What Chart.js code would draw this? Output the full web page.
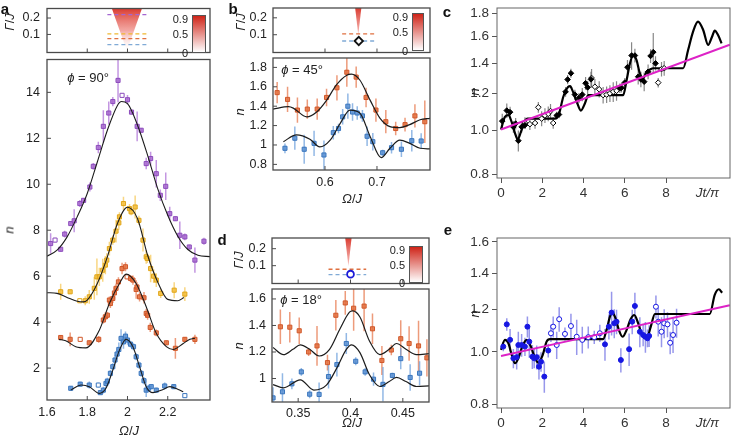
<!DOCTYPE html>
<html>
<head>
<meta charset="utf-8">
<script src="https://cdn.jsdelivr.net/npm/chart.js@4.4.1/dist/chart.umd.min.js"></script>
<style>
body { margin:0; width:732px; height:436px; position:relative; overflow:hidden; background:#fff;
       font-family:'Liberation Sans', Arial, sans-serif; }
canvas { position:absolute; }
.t { position:absolute; white-space:nowrap; color:#222; font-size:13px; transform:translate(-50%,-50%); }
.r { transform:translate(-50%,-50%) rotate(-90deg); }
.pl { font-weight:bold; font-size:15px; color:#111; }
.cb { position:absolute; box-sizing:border-box; border:1px solid #555;
      background:linear-gradient(to top, #ffffff, #cf2418); }
.cbl { position:absolute; font-size:11px; color:#222; transform:translate(-100%,-50%); white-space:nowrap; }
</style>
</head>
<body>
<script>
// ---------- panel a (phi = 90 deg) ----------
const aXTicks = [1.6, 1.8, 2, 2.2];
const aYTicks = [2, 4, 6, 8, 10, 12, 14];
const gTicks = [0.1, 0.2];

const aPurpleX = [1.618,1.64,1.668,1.688,1.718,1.735,1.763,1.782,1.813,1.83,1.855,1.88,1.907,1.927,1.953,1.973,2.0,2.02,2.048,2.068,2.093,2.115,2.143,2.163,2.19,2.21,2.238,2.26,2.285,2.307,2.335,2.38];
const aPurpleY = [7.42,7.57,7.17,7.83,8.29,8.41,9.16,9.30,9.88,10.78,11.6,12.52,13.1,13.6,14.52,13.87,13.68,13.14,12.52,12.35,10.9,11.12,10.46,9.52,9.91,8.72,8.5,7.78,7.71,7.27,6.7,7.52];
const aPurpleErr = [0.45,0.1,0.1,0.15,0.1,0.5,0.15,0.1,0.2,0.15,0.25,0.7,0.5,0.2,0.95,0.1,0.2,0.1,0.65,0.1,0.25,0.3,0.6,0.25,0.6,0.3,0.1,0.6,0.15,0.1,0.55,0.15];
const aPurpleOpen = [1, 15];
const aPurpleFitX = [1.6,1.65,1.7,1.75,1.8,1.85,1.9,1.95,1.97,2.0,2.05,2.1,2.15,2.2,2.25,2.3,2.35,2.41];
const aPurpleFitY = [6.87,7.13,7.71,8.58,9.6,10.97,12.35,13.43,13.6,13.51,12.57,11.26,9.81,8.65,7.74,7.16,6.91,6.85];

const aYellowX = [1.668,1.715,1.763,1.79,1.81,1.835,1.848,1.86,1.877,1.89,1.897,1.91,1.927,1.943,1.957,1.96,1.98,2.01,2.018,2.038,2.057,2.077,2.093,2.098,2.115,2.13,2.143,2.165,2.232,2.285];
const aYellowY = [5.32,5.32,4.93,4.93,5.1,5.47,5.97,5.97,6.26,6.48,6.7,7.2,7.57,7.96,8.32,8.58,9.16,8.94,8.8,9.01,8.43,7.57,6.84,6.77,6.33,6.0,5.83,5.25,5.39,5.22];
const aYellowErr = [0.35,0.1,0.1,0.2,0.3,0.5,0.8,0.4,0.5,0.4,0.3,0.3,0.2,0.5,0.3,0.2,0.3,0.2,0.15,0.5,0.2,0.5,0.3,0.2,0.6,0.3,0.3,0.2,0.35,0.3];
const aYellowOpen = [2];
const aYellowFitX = [1.6,1.65,1.7,1.75,1.78,1.8,1.85,1.9,1.95,2.0,2.05,2.1,2.15,2.2,2.25,2.28];
const aYellowFitY = [5.28,5.25,5.07,4.91,4.88,4.96,5.68,6.84,8.29,9.0,8.5,6.91,5.75,4.99,4.93,5.07];

const aOrangeX = [1.668,1.715,1.765,1.81,1.857,1.88,1.89,1.9,1.91,1.915,1.927,1.935,1.943,1.955,1.973,1.99,1.998,2.015,2.027,2.043,2.047,2.06,2.082,2.093,2.1,2.113,2.143,2.193,2.238,2.285,2.335];
const aOrangeY = [3.33,3.25,3.25,3.1,3.25,4.09,4.23,4.3,4.96,4.81,5.03,5.27,5.47,5.75,6.33,6.41,5.97,5.9,5.83,5.42,5.53,5.1,5.06,4.38,4.3,3.77,3.53,3.1,2.86,3.25,3.25];
const aOrangeErr = [0.1,0.3,0.1,0.1,0.15,0.15,0.2,0.15,0.15,0.2,0.2,0.25,0.2,0.2,0.25,0.2,0.1,0.15,0.2,0.4,0.2,0.2,0.25,0.2,0.2,0.2,0.15,0.1,0.45,0.1,0.2];
const aOrangeOpen = [2, 16];
const aOrangeFitX = [1.66,1.693,1.743,1.793,1.86,1.91,1.96,1.993,2.043,2.093,2.143,2.193,2.227,2.277,2.31,2.335];
const aOrangeFitY = [3.25,3.19,2.93,2.88,3.65,4.81,5.68,6.09,5.68,4.67,3.51,2.93,2.81,3.07,3.25,3.3];

const aBlueX = [1.718,1.765,1.81,1.855,1.865,1.88,1.893,1.9,1.915,1.927,1.938,1.948,1.957,1.968,1.98,1.99,2.0,2.015,2.03,2.043,2.057,2.068,2.082,2.093,2.105,2.118,2.143,2.185,2.23,2.285];
const aBlueY = [1.12,1.3,1.26,1.26,0.93,1.04,1.33,1.43,1.77,2.06,2.35,2.61,2.81,3.29,3.14,3.39,3.22,3.04,2.93,2.49,2.13,1.77,1.45,1.04,1.12,1.19,1.04,1.22,1.19,0.8];
const aBlueErr = [0.1,0.1,0.15,0.1,0.1,0.15,0.2,0.15,0.15,0.15,0.2,0.2,0.3,0.4,0.3,0.2,0.2,0.15,0.15,0.15,0.15,0.15,0.15,0.3,0.15,0.1,0.1,0.15,0.1,0.1];
const aBlueOpen = [3, 29];
const aBlueFitX = [1.718,1.77,1.81,1.86,1.893,1.927,1.96,1.993,2.027,2.06,2.093,2.127,2.177,2.21,2.252,2.277];
const aBlueFitY = [1.04,1.26,1.19,0.9,1.12,1.91,2.78,3.25,2.93,2.06,1.19,0.93,1.07,1.19,1.07,0.97];

// inset a: decay rates (dashed) and resonance cone
const aDashX = [1.9, 2.1];
const aDashG = [0.221, 0.104, 0.074, 0.038];   // purple, yellow, orange, blue
const aConeX = [1.91, 1.997, 2.084];
const aConeG = [0.3, 0, 0.3];

// ---------- panel b (phi = 45 deg) ----------
const bXTicks = [0.6, 0.7];
const bYTicks = [0.8, 1, 1.2, 1.4, 1.6, 1.8];
const bOrangeX = [0.508,0.528,0.547,0.566,0.585,0.603,0.623,0.642,0.66,0.679,0.698,0.717,0.736,0.754,0.773,0.792];
const bOrangeY = [1.54,1.47,1.36,1.37,1.37,1.49,1.59,1.75,1.70,1.49,1.36,1.24,1.17,1.21,1.30,1.24];
const bOrangeErr = [0.11,0.13,0.13,0.1,0.11,0.09,0.13,0.15,0.11,0.1,0.12,0.12,0.07,0.07,0.12,0.22];
const bBlueX = [0.523,0.542,0.56,0.579,0.598,0.616,0.626,0.634,0.644,0.653,0.662,0.672,0.681,0.692,0.711,0.728,0.747,0.767,0.785];
const bBlueY = [0.966,1.07,0.956,1.017,0.897,1.127,1.17,1.29,1.40,1.34,1.33,1.30,1.09,1.034,0.92,0.972,0.956,1.044,1.041];
const bBlueErr = [0.05,0.12,0.15,0.13,0.15,0.07,0.05,0.08,0.13,0.09,0.07,0.06,0.1,0.09,0.03,0.06,0.08,0.11,0.08];
const bOrangeFitX = [0.5,0.53,0.539,0.565,0.584,0.603,0.622,0.642,0.651,0.667,0.687,0.706,0.725,0.744,0.763,0.783,0.802];
const bOrangeFitY = [1.37,1.395,1.38,1.29,1.34,1.46,1.62,1.72,1.73,1.67,1.46,1.275,1.19,1.18,1.21,1.26,1.275];
const bBlueFitX = [0.52,0.545,0.571,0.59,0.61,0.629,0.648,0.667,0.687,0.708,0.725,0.744,0.763,0.783,0.802];
const bBlueFitY = [1.034,1.105,1.06,0.98,1.05,1.22,1.36,1.33,1.086,0.87,0.966,1.05,1.017,0.966,0.96];
const bDashX = [0.633, 0.70];
const bDashG = [0.105, 0.063];
const bMark = [0.665, 0.063];
const bConeX = [0.6565, 0.664, 0.6715];
const bConeG = [0.3, 0.1, 0.3];

// ---------- panel d (phi = 18 deg) ----------
const dXTicks = [0.35, 0.4, 0.45];
const dYTicks = [1, 1.2, 1.4, 1.6];
const dOrangeX = [0.333,0.342,0.351,0.36,0.368,0.378,0.386,0.395,0.403,0.413,0.421,0.43,0.439,0.448,0.456,0.465,0.473];
const dOrangeY = [1.39,1.387,1.36,1.20,1.246,1.12,1.477,1.57,1.53,1.546,1.375,1.136,1.215,1.30,1.264,1.246,1.156];
const dOrangeErr = [0.13,0.115,0.1,0.03,0.15,0.06,0.115,0.09,0.17,0.19,0.115,0.11,0.04,0.14,0.13,0.19,0.14];
const dBlueX = [0.326,0.335,0.344,0.353,0.361,0.37,0.379,0.387,0.396,0.405,0.414,0.422,0.431,0.44,0.448,0.457,0.466];
const dBlueY = [0.854,0.90,0.96,1.05,0.882,0.88,1.015,1.105,1.264,1.13,1.05,0.995,0.956,1.023,1.15,1.008,1.04];
const dBlueErr = [0.08,0.14,0.04,0.03,0.03,0.09,0.09,0.09,0.08,0.03,0.03,0.05,0.13,0.02,0.08,0.1,0.09];
const dOrangeFitX = [0.326,0.336,0.345,0.352,0.361,0.37,0.38,0.39,0.399,0.402,0.409,0.418,0.428,0.437,0.444,0.453,0.463,0.475];
const dOrangeFitY = [1.233,1.18,1.22,1.254,1.22,1.17,1.22,1.375,1.50,1.51,1.464,1.285,1.18,1.22,1.264,1.22,1.18,1.187];
const dBlueFitX = [0.326,0.336,0.352,0.365,0.377,0.387,0.396,0.401,0.409,0.418,0.428,0.437,0.444,0.453,0.463,0.475];
const dBlueFitY = [0.954,0.93,0.99,0.913,0.95,1.08,1.22,1.254,1.195,1.03,0.94,0.977,1.008,0.977,0.94,0.944];
const dDashX = [0.379, 0.415];
const dDashG = [0.079, 0.047];
const dMark = [0.40, 0.05];
const dConeX = [0.3943, 0.398, 0.4017];
const dConeG = [0.3, 0.095, 0.3];

// colour bars
const cbTicks = [0, 0.5, 0.9];

// ---------- panels c, e (time traces, log n) ----------
const tXTicks = [0, 2, 4, 6, 8, 10];
const tXLabels = ['0', '2', '4', '6', '8', 'Jt/π'];
const cYTicks = [0.8, 1.0, 1.2, 1.4, 1.6, 1.8];
const cYLabels = ['0.8', '1.0', '1.2', '1.4', '1.6', '1.8'];
const eYTicks = [0.8, 1.0, 1.2, 1.4, 1.6];
const eYLabels = ['0.8', '1.0', '1.2', '1.4', '1.6'];

const cFillX = [0.06,0.28,0.44,0.6,0.71,0.84,1.0,1.16,2.7,2.81,3.13,3.23,3.39,3.58,3.78,3.94,4.1,4.2,4.36,5.76,5.84,6.0,6.13,6.33,6.49,6.65,6.78,6.94,7.13,7.25,7.38,7.49];
const cFillY = [1.046,1.103,1.094,1.016,1.033,0.948,1.016,1.025,1.076,1.081,1.212,1.289,1.33,1.195,1.175,1.195,1.265,1.239,1.29,1.234,1.237,1.269,1.371,1.454,1.454,1.307,1.29,1.275,1.34,1.451,1.479,1.398];
const cFillErr = [0.04,0.04,0.03,0.03,0.03,0.05,0.03,0.02,0.02,0.02,0.03,0.03,0.03,0.03,0.03,0.04,0.04,0.04,0.05,0.03,0.03,0.03,0.05,0.1,0.05,0.05,0.05,0.06,0.05,0.05,0.15,0.05];
const cOpenX = [1.16,1.4,1.65,1.81,1.97,2.13,2.29,2.4,2.53,4.39,4.55,4.76,4.95,5.12,5.28,5.44,5.6,7.62,7.78,7.91];
const cOpenY = [1.036,1.03,1.036,1.121,1.059,1.076,1.085,1.1,1.036,1.299,1.243,1.227,1.192,1.195,1.202,1.212,1.218,1.269,1.358,1.364];
const cOpenErr = [0.03,0.03,0.03,0.03,0.04,0.04,0.04,0.04,0.03,0.06,0.05,0.05,0.05,0.05,0.05,0.06,0.06,0.03,0.05,0.05];
const cFitX = [0,0.19,0.36,0.52,0.68,0.81,0.97,1.13,1.29,2.61,2.8,3.02,3.26,3.35,3.42,3.67,3.87,4.07,4.23,5.92,6.09,6.25,6.41,6.57,6.73,6.89,7.06,7.22,7.38,8.83,9.07,9.31,9.55,9.8,10.04,10.23,10.36,10.52,10.69];
const cFitY = [1.003,1.069,1.078,1.04,0.984,0.954,0.992,1.04,1.059,1.059,1.08,1.182,1.243,1.247,1.233,1.153,1.103,1.144,1.192,1.192,1.286,1.398,1.458,1.421,1.329,1.297,1.34,1.355,1.364,1.364,1.495,1.64,1.724,1.653,1.533,1.598,1.648,1.612,1.546];
const cTrendX = [0, 11.09];
const cTrendY = [1.003, 1.535];

const eFillX = [0.11,0.28,0.44,0.6,0.76,0.84,1.0,1.16,1.28,1.37,1.52,1.61,1.73,1.84,1.94,2.1,2.29,5.04,5.23,5.36,5.49,5.6,5.81,6.21,6.36,6.49,6.73,6.89,7.0,7.1,7.18];
const eFillY = [1.023,1.125,1.053,0.973,0.978,1.03,1.03,1.023,1.114,1.045,0.98,0.973,0.978,0.939,0.959,0.9,1.006,1.033,1.114,1.183,1.13,1.138,0.966,1.012,1.138,1.217,1.09,1.075,1.067,1.06,1.071];
const eFillErr = [0.02,0.03,0.05,0.04,0.05,0.06,0.05,0.04,0.05,0.07,0.05,0.04,0.05,0.05,0.04,0.06,0.03,0.07,0.06,0.11,0.07,0.06,0.05,0.07,0.06,0.07,0.07,0.05,0.07,0.04,0.05];
const eOpenX = [2.42,2.53,2.7,2.82,3.1,3.39,3.67,3.94,4.23,4.52,4.79,7.51,7.62,7.78,7.91,8.07,8.2,8.34,8.51];
const eOpenY = [1.083,1.114,1.03,1.15,1.08,1.117,1.067,1.053,1.065,1.065,1.083,1.213,1.138,1.09,1.13,1.125,1.04,1.075,1.133];
const eOpenErr = [0.04,0.05,0.06,0.06,0.03,0.06,0.08,0.06,0.05,0.03,0.04,0.06,0.07,0.07,0.07,0.06,0.05,0.08,0.07];
const eFitX = [0,0.19,0.36,0.52,0.68,0.84,1.03,1.24,1.45,1.65,1.81,2.02,2.21,2.37,4.95,5.12,5.28,5.39,5.55,5.71,5.89,6.09,6.28,6.46,6.65,6.84,7.06,7.26,7.46,10.12,10.36,10.56,10.72];
const eFitY = [1.009,1.053,1.038,0.987,0.953,0.973,1.023,1.053,1.023,0.973,0.955,0.987,1.045,1.056,1.056,1.099,1.163,1.183,1.155,1.099,1.067,1.099,1.15,1.171,1.13,1.075,1.06,1.114,1.176,1.176,1.276,1.307,1.288];
const eTrendX = [0, 11.09];
const eTrendY = [0.983, 1.221];

// ---------- helpers ----------
Chart.defaults.font.family = "'Liberation Sans', Arial, sans-serif";
Chart.defaults.color = '#222';
Chart.defaults.animation = false;

const pts = (xs, ys) => xs.map((x, i) => ({x, y: ys[i]}));
const fixTicks = vals => s => { s.ticks = vals.map(v => ({value: v})); };
const fills = (n, open, col) => Array.from({length: n}, (_, i) => open.includes(i) ? '#fff' : col);

// box around the plot area
Chart.register({
  id: 'frame',
  defaults: {color: '#4a4a4a', width: 1.3},
  afterDraw(chart, args, o) {
    const {ctx, chartArea: a} = chart;
    ctx.save();
    ctx.strokeStyle = o.color; ctx.lineWidth = o.width;
    ctx.strokeRect(a.left, a.top, a.right - a.left, a.bottom - a.top);
    ctx.restore();
  }
});

// tick marks pointing into the plot
Chart.register({
  id: 'innerTicks',
  defaults: {len: 0},
  afterDraw(chart, args, o) {
    if (!o.len) return;
    const {ctx, chartArea: a, scales: {x, y}} = chart;
    ctx.save();
    ctx.strokeStyle = '#4a4a4a'; ctx.lineWidth = 1;
    ctx.beginPath();
    x.ticks.forEach(t => {
      const p = x.getPixelForValue(t.value);
      if (p > a.left + 2 && p < a.right - 2) { ctx.moveTo(p, a.bottom); ctx.lineTo(p, a.bottom - o.len); }
    });
    y.ticks.forEach(t => {
      const p = y.getPixelForValue(t.value);
      if (p > a.top + 2 && p < a.bottom - 2) { ctx.moveTo(a.left, p); ctx.lineTo(a.left + o.len, p); }
    });
    ctx.stroke();
    ctx.restore();
  }
});

// vertical error bars from dataset.errs
Chart.register({
  id: 'errorBars',
  beforeDatasetsDraw(chart) {
    const {ctx, chartArea: a, scales: {x, y}} = chart;
    ctx.save();
    ctx.beginPath(); ctx.rect(a.left, a.top, a.right - a.left, a.bottom - a.top); ctx.clip();
    chart.data.datasets.forEach(ds => {
      if (!ds.errs) return;
      ctx.strokeStyle = ds.errColor; ctx.lineWidth = ds.errWidth || 1.5;
      ctx.beginPath();
      ds.data.forEach((p, j) => {
        const px = x.getPixelForValue(p.x);
        ctx.moveTo(px, y.getPixelForValue(p.y - ds.errs[j]));
        ctx.lineTo(px, y.getPixelForValue(p.y + ds.errs[j]));
      });
      ctx.stroke();
    });
    ctx.restore();
  }
});

function place(r, yW, xH, pt, pr) {
  const w = r.R - r.L + yW + pr, h = r.B - r.T + pt + xH;
  const c = document.createElement('canvas');
  c.width = w; c.height = h;
  c.style.left = (r.L - yW) + 'px'; c.style.top = (r.T - pt) + 'px';
  c.style.width = w + 'px'; c.style.height = h + 'px';
  document.body.appendChild(c);
  return c;
}

function axis(min, max, ticks, size, pad, more) {
  return Object.assign({
    type: 'linear', min, max,
    afterBuildTicks: fixTicks(ticks),
    afterFit: s => { if (s.isHorizontal()) s.height = size; else s.width = size; },
    ticks: {padding: pad, font: {size: 12.5}, color: '#222', maxRotation: 0, autoSkip: false, callback: v => String(v)},
    grid: {drawOnChartArea: false, drawTicks: false},
    border: {display: false}
  }, more || {});
}

function plot(r, m, datasets, xs, ys, plug) {
  const cv = place(r, m.yW, m.xH, m.pt, m.pr);
  return new Chart(cv, {
    type: 'scatter',
    data: {datasets},
    options: {
      responsive: false, animation: false,
      layout: {padding: {top: m.pt, right: m.pr, left: 0, bottom: 0}},
      scales: {x: xs, y: ys},
      plugins: Object.assign({legend: {display: false}, tooltip: {enabled: false}}, plug || {})
    }
  });
}

function markers(xs, ys, errs, st) {
  return {
    data: pts(xs, ys), errs, errColor: st.err, errWidth: st.errW || 1.5,
    pointStyle: st.shape || 'rect', pointRadius: st.r || 2.9, pointBorderWidth: st.bw || 1,
    pointBorderColor: st.edge, pointBackgroundColor: st.fill, order: st.order || 2
  };
}
function curve(xs, ys, color, w, order) {
  return {type: 'line', data: pts(xs, ys), borderColor: color, borderWidth: w, pointRadius: 0,
          cubicInterpolationMode: 'monotone', fill: false, order: order || 1};
}
function dash(xs, g, color) {
  return {type: 'line', data: pts(xs, [g, g]), borderColor: color, borderWidth: 1.3,
          borderDash: [4, 3], pointRadius: 0, fill: false, order: 2};
}
function coneFill(c) {
  const a = c.chart.chartArea;
  if (!a) return 'rgba(0,0,0,0)';
  const g = c.chart.ctx.createLinearGradient(0, a.top, 0, a.bottom);
  g.addColorStop(0, 'rgba(214,42,30,0.92)');
  g.addColorStop(0.5, 'rgba(236,120,112,0.65)');
  g.addColorStop(1, 'rgba(255,255,255,0)');
  return g;
}
function cone(xs, g) {
  return {type: 'line', data: pts(xs, g), borderWidth: 0, borderColor: 'rgba(0,0,0,0)', pointRadius: 0,
          fill: 'shape', backgroundColor: coneFill, order: 3};
}
// colour-scale key beside each inset (a legend, not data)
function colorbar(r) {
  const bar = document.createElement('div');
  bar.className = 'cb';
  bar.style.left = r.L + 'px'; bar.style.top = r.T + 'px';
  bar.style.width = (r.R - r.L) + 'px'; bar.style.height = (r.B - r.T) + 'px';
  document.body.appendChild(bar);
  cbTicks.forEach(v => {
    const s = document.createElement('div');
    s.className = 'cbl';
    s.textContent = String(v);
    s.style.left = (r.L - 4) + 'px';
    s.style.top = (r.B - v * (r.B - r.T)) + 'px';
    document.body.appendChild(s);
  });
}

const C = {
  purple: {fill: 'rgba(165,100,205,0.8)', edge: '#8c4cbc', err: 'rgba(175,115,215,0.75)', dash: '#a466d2'},
  yellow: {fill: 'rgba(244,190,60,0.85)', edge: '#e0a518', err: 'rgba(246,200,90,0.75)', dash: '#f0b830'},
  orange: {fill: 'rgba(228,112,62,0.85)', edge: '#d0582a', err: 'rgba(232,130,90,0.8)', dash: '#e07040'},
  blue:   {fill: 'rgba(90,145,210,0.85)', edge: '#3a76be', err: 'rgba(110,160,220,0.75)', dash: '#80aad6'}
};
const FIT = '#1c1c1c';
function series(xs, ys, errs, open, col) {
  return markers(xs, ys, errs, {fill: fills(xs.length, open, col.fill), edge: col.edge, err: col.err});
}

// ---------- panel a ----------
plot({L: 47, T: 8, R: 210, B: 59}, {yW: 47, xH: 8, pt: 14, pr: 10}, [
  cone(aConeX, aConeG),
  dash(aDashX, aDashG[0], C.purple.dash), dash(aDashX, aDashG[1], C.yellow.dash),
  dash(aDashX, aDashG[2], C.orange.dash), dash(aDashX, aDashG[3], C.blue.dash)
], axis(1.6, 2.41, aXTicks, 8, 0, {ticks: {display: false}}),
   axis(-0.01, 0.258, gTicks, 47, 7), {innerTicks: {len: 4}});
colorbar({L: 192, T: 15, R: 206, B: 53});

plot({L: 47, T: 59, R: 210, B: 400}, {yW: 47, xH: 36, pt: 14, pr: 10}, [
  series(aPurpleX, aPurpleY, aPurpleErr, aPurpleOpen, C.purple),
  series(aYellowX, aYellowY, aYellowErr, aYellowOpen, C.yellow),
  series(aOrangeX, aOrangeY, aOrangeErr, aOrangeOpen, C.orange),
  series(aBlueX, aBlueY, aBlueErr, aBlueOpen, C.blue),
  curve(aPurpleFitX, aPurpleFitY, FIT, 1.1), curve(aYellowFitX, aYellowFitY, FIT, 1.1),
  curve(aOrangeFitX, aOrangeFitY, FIT, 1.1), curve(aBlueFitX, aBlueFitY, FIT, 1.1)
], axis(1.6, 2.41, aXTicks, 36, 5), axis(0.61, 15.43, aYTicks, 47, 7), {innerTicks: {len: 4}});

// ---------- panel b ----------
plot({L: 273, T: 8, R: 430, B: 58}, {yW: 34, xH: 8, pt: 14, pr: 10}, [
  cone(bConeX, bConeG),
  dash(bDashX, bDashG[0], C.orange.dash), dash(bDashX, bDashG[1], C.blue.dash),
  {data: [{x: bMark[0], y: bMark[1]}], pointStyle: 'rectRot', pointRadius: 4.2, pointBorderWidth: 1.8,
   pointBorderColor: '#111', pointBackgroundColor: '#fff', order: 1}
], axis(0.5, 0.802, bXTicks, 8, 0, {ticks: {display: false}}),
   axis(-0.005, 0.258, gTicks, 34, 6), {innerTicks: {len: 4}});
colorbar({L: 412, T: 13, R: 424, B: 51});

plot({L: 273, T: 58, R: 430, B: 170}, {yW: 34, xH: 30, pt: 14, pr: 10}, [
  markers(bOrangeX, bOrangeY, bOrangeErr, {fill: C.orange.fill, edge: C.orange.edge, err: C.orange.err}),
  markers(bBlueX, bBlueY, bBlueErr, {fill: C.blue.fill, edge: C.blue.edge, err: C.blue.err}),
  curve(bOrangeFitX, bOrangeFitY, FIT, 1.2), curve(bBlueFitX, bBlueFitY, FIT, 1.2)
], axis(0.5, 0.802, bXTicks, 30, 5), axis(0.742, 1.897, bYTicks, 34, 6), {innerTicks: {len: 4}});

// ---------- panel d ----------
plot({L: 272, T: 238, R: 429, B: 289}, {yW: 34, xH: 8, pt: 14, pr: 10}, [
  cone(dConeX, dConeG),
  dash(dDashX, dDashG[0], C.orange.dash), dash(dDashX, dDashG[1], C.blue.dash),
  {data: [{x: dMark[0], y: dMark[1]}], pointStyle: 'circle', pointRadius: 3.4, pointBorderWidth: 1.8,
   pointBorderColor: '#1b1bd8', pointBackgroundColor: '#fff', order: 1}
], axis(0.325, 0.475, dXTicks, 8, 0, {ticks: {display: false}}),
   axis(-0.005, 0.263, gTicks, 34, 6), {innerTicks: {len: 4}});
colorbar({L: 409, T: 246, R: 423, B: 283});

plot({L: 272, T: 289, R: 429, B: 402}, {yW: 34, xH: 30, pt: 14, pr: 10}, [
  markers(dOrangeX, dOrangeY, dOrangeErr, {fill: C.orange.fill, edge: C.orange.edge, err: C.orange.err}),
  markers(dBlueX, dBlueY, dBlueErr, {fill: C.blue.fill, edge: C.blue.edge, err: C.blue.err}),
  curve(dOrangeFitX, dOrangeFitY, FIT, 1.2), curve(dBlueFitX, dBlueFitY, FIT, 1.2)
], axis(0.325, 0.475, dXTicks, 30, 4), axis(0.823, 1.675, dYTicks, 34, 6), {innerTicks: {len: 4}});

// ---------- panels c, e ----------
function timeAxisX() {
  return axis(-0.194, 11.1, tXTicks, 30, 2, {
    ticks: {padding: 2, color: '#333', maxRotation: 0, autoSkip: false,
            font: c => ({size: 13.5, style: c.index === 5 ? 'italic' : 'normal'}),
            callback: (v, i) => tXLabels[i]},
    grid: {drawOnChartArea: false, drawTicks: true, tickLength: 5, lineWidth: 1,
           tickColor: c => c.index === 5 ? 'rgba(0,0,0,0)' : '#555'}
  });
}
function logAxisY(min, max, ticks, labels) {
  return axis(min, max, ticks, 40, 3, {
    type: 'logarithmic',
    ticks: {padding: 3, color: '#333', font: {size: 13.5}, autoSkip: false, callback: (v, i) => labels[i]},
    grid: {drawOnChartArea: false, drawTicks: true, tickLength: 5, lineWidth: 1, tickColor: '#555'}
  });
}
const tM = {yW: 40, xH: 30, pt: 14, pr: 12};

plot({L: 497, T: 8, R: 730, B: 178}, tM, [
  curve(cFitX, cFitY, '#000', 2.2, 3),
  markers(cFillX, cFillY, cFillErr, {shape: 'rectRot', r: 2.8, fill: '#000', edge: '#000',
          err: 'rgba(105,105,105,0.8)', errW: 1.2, order: 2}),
  markers(cOpenX, cOpenY, cOpenErr, {shape: 'rectRot', r: 2.8, fill: '#fff', edge: '#000', bw: 1,
          err: 'rgba(105,105,105,0.8)', errW: 1.2, order: 2}),
  curve(cTrendX, cTrendY, '#dd22c6', 2, 0)
], timeAxisX(), logAxisY(0.786, 1.846, cYTicks, cYLabels), {frame: {color: '#666', width: 1}});

plot({L: 497, T: 238, R: 730, B: 408}, tM, [
  curve(eFitX, eFitY, '#000', 2.2, 3),
  markers(eFillX, eFillY, eFillErr, {shape: 'circle', r: 2.5, fill: '#1717e2', edge: '#1717e2',
          err: 'rgba(95,95,225,0.65)', errW: 1.5, order: 2}),
  markers(eOpenX, eOpenY, eOpenErr, {shape: 'circle', r: 2.5, fill: '#fff', edge: '#1717e2', bw: 1,
          err: 'rgba(95,95,225,0.65)', errW: 1.5, order: 2}),
  curve(eTrendX, eTrendY, '#dd22c6', 2, 0)
], timeAxisX(), logAxisY(0.787, 1.627, eYTicks, eYLabels), {frame: {color: '#666', width: 1}});

// ---------- text ----------
function label(html, x, y, cls) {
  const s = document.createElement('div');
  s.className = 't ' + (cls || '');
  s.innerHTML = html;
  s.style.left = x + 'px'; s.style.top = y + 'px';
  document.body.appendChild(s);
}
label('a', 5, 8, 'pl'); label('b', 233, 8, 'pl'); label('c', 447, 11, 'pl');
label('d', 222, 239, 'pl'); label('e', 448, 229, 'pl');
label('<i>Γ</i>/<i>J</i>', 9, 22, 'r'); label('<i>n</i>', 9, 230, 'r');
label('<i>Ω</i>/<i>J</i>', 129, 430);
label('<i>Γ</i>/<i>J</i>', 240, 22, 'r'); label('<i>n</i>', 239, 112, 'r');
label('<i>Ω</i>/<i>J</i>', 352, 198);
label('<i>Γ</i>/<i>J</i>', 238, 260, 'r'); label('<i>n</i>', 238, 346, 'r');
label('<i>Ω</i>/<i>J</i>', 352, 422);
label('<i>n</i>', 474, 92, 'r'); label('<i>n</i>', 474, 314, 'r');
label('<i>ϕ</i> = 90°', 88, 77); label('<i>ϕ</i> = 45°', 302, 69); label('<i>ϕ</i> = 18°', 301, 299);
</script>
</body>
</html>
